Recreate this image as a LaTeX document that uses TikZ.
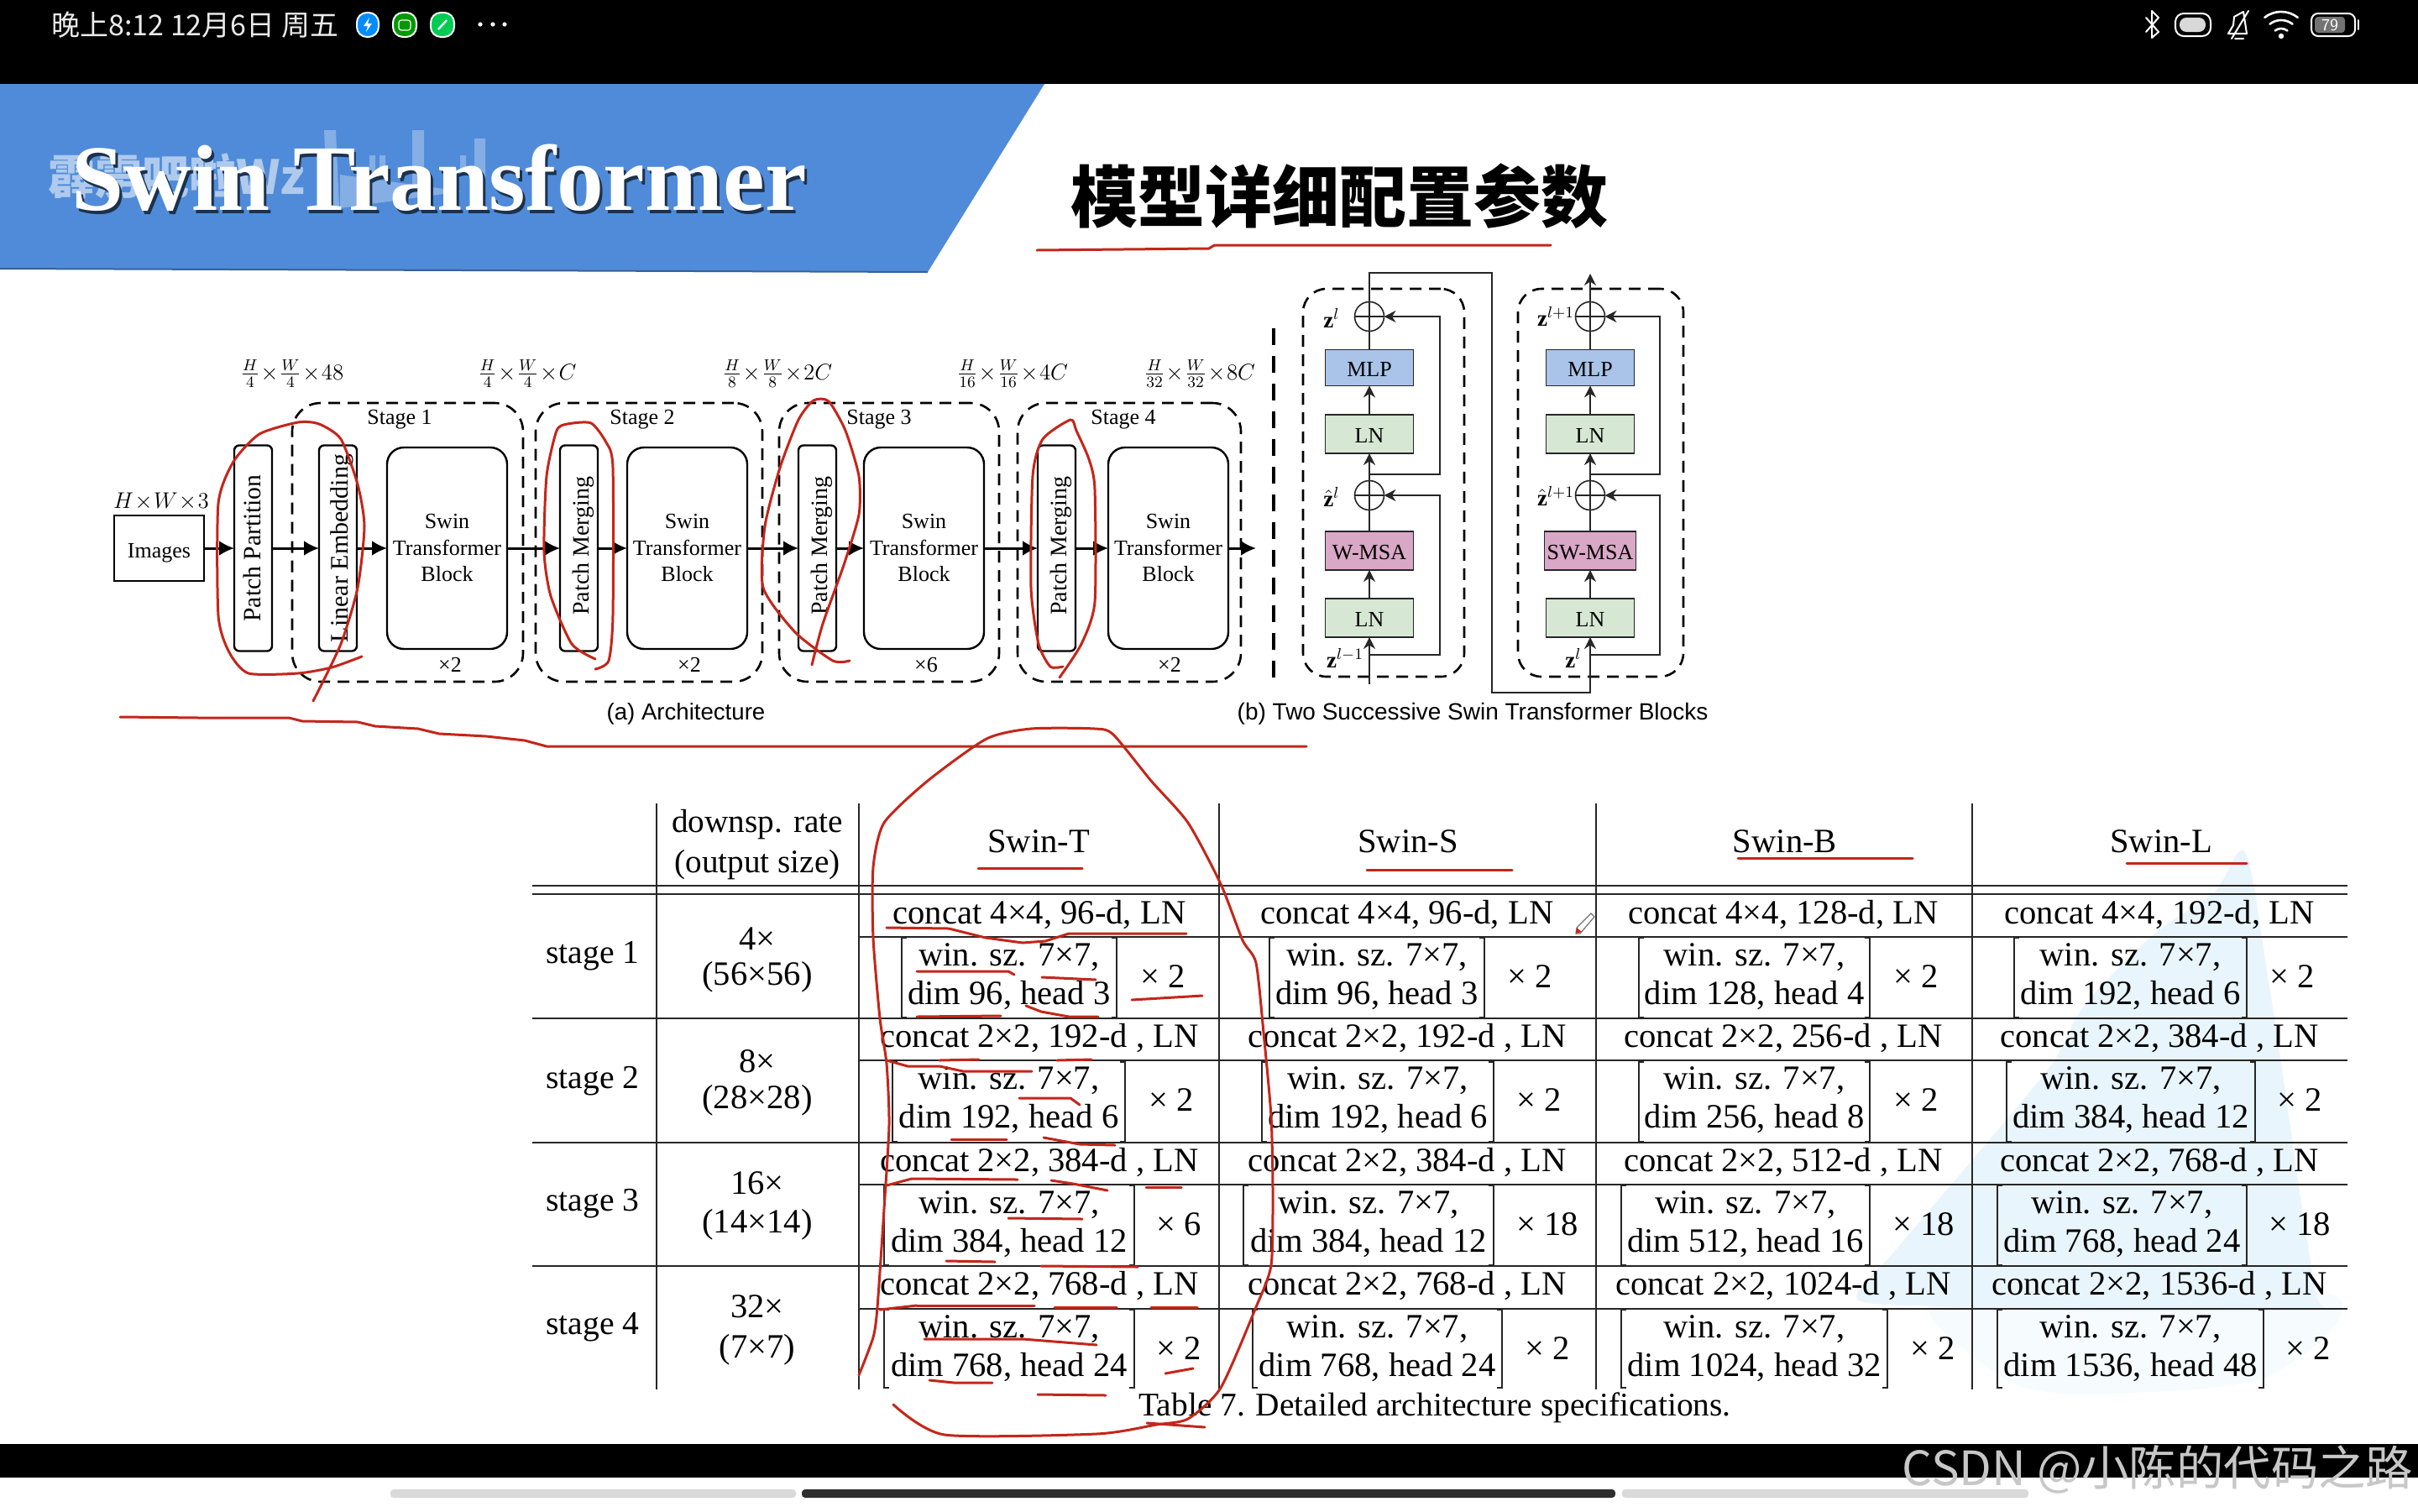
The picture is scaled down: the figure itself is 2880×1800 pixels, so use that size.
\documentclass[tikz,border=0pt]{standalone}
\usepackage{fix-cm}
\usepackage{fontspec}
\setmainfont{Liberation Serif}
\newfontfamily\cjk{Noto Sans CJK SC}
\newfontfamily\sanslbl{Liberation Sans}
\usepackage{xcolor}
\usepackage{tikz}
\usetikzlibrary{arrows.meta, positioning}
\definecolor{pita}{HTML}{4F8BD9}
\definecolor{tintamerah}{HTML}{C4261A}
\definecolor{mlpbiru}{HTML}{A9C4E8}
\definecolor{lnhijau}{HTML}{D6E8D4}
\definecolor{msaungu}{HTML}{D9A8C6}
\definecolor{garisgelap}{HTML}{262626}
\definecolor{awan}{HTML}{E9F5FC}
\definecolor{awanmuda}{HTML}{F6FBFE}
\tikzset{
  gambar/.style={rectangle, draw=black, line width=1.2pt, outer sep=0pt, inner sep=0pt,
    minimum width=53.5pt, minimum height=39pt, font=\fontsize{13}{15}\selectfont},
  irisan/.style={rectangle, rounded corners=3pt, draw=black, line width=1.2pt, outer sep=0pt, inner sep=0pt,
    minimum width=22.5pt, minimum height=122.5pt, font=\fontsize{14}{16}\selectfont},
  blok/.style={rectangle, rounded corners=10pt, draw=black, line width=1.2pt, outer sep=0pt, inner sep=0pt,
    minimum width=71.5pt, minimum height=120pt, font=\fontsize{13}{15.7}\selectfont},
  tahap/.style={rectangle, rounded corners=17pt, draw=black, line width=1.3pt, dash pattern=on 7pt off 4.5pt},
  tahapb/.style={rectangle, rounded corners=14pt, draw=black, line width=1.3pt, dash pattern=on 7pt off 4.5pt,
    minimum height=231pt, outer sep=0pt, inner sep=0pt},
  panah/.style={-{Latex[length=9pt, width=9pt]}, line width=1.5pt, shorten >=0pt},
  panahb/.style={-{Stealth[length=7pt, width=7pt]}, line width=.8pt, draw=garisgelap},
  garis/.style={line width=.8pt, draw=garisgelap},
  kotak/.style={rectangle, draw=garisgelap, line width=.8pt, outer sep=0pt, inner sep=0pt,
    minimum width=52.5pt, text height=10.5pt, font=\fontsize{13}{15}\selectfont},
  jumlah/.style={circle, draw=garisgelap, line width=.8pt, minimum size=17.5pt, inner sep=0pt, outer sep=0pt,
    path picture={\draw[garisgelap, line width=.8pt] (path picture bounding box.north) -- (path picture bounding box.south)
      (path picture bounding box.west) -- (path picture bounding box.east);}},
  label a/.style={font=\fontsize{13.5}{15}\selectfont, inner sep=0pt},
  sel/.style={font=\fontsize{20.3}{23}\selectfont, inner sep=0pt, align=center},
  tabel/.style={line width=1pt, draw=garisgelap},
  kurung/.style={line width=.9pt, draw=garisgelap},
  tinta/.style={draw=tintamerah, line width=1.5pt, line cap=round, line join=round},
  ikon/.style={draw=white, line width=1pt, line cap=round, line join=round}
}
\newcommand{\tegak}[1]{\rotatebox{90}{\raisebox{0pt}[12pt][0pt]{\hspace{3pt}#1}}}
\newcommand{\isiblok}{\raisebox{-4.2pt}[0pt][0pt]{\begin{tabular}{@{}c@{}}Swin\\Transformer\\Block\end{tabular}}}
\newcommand{\baris}[6]{
  \foreach \k/\cx/\teks/\kiri/\kanan/\isi/\mx/\ulang in {#6} {
    \node[sel] (c#1\k) at (\cx,#2) {\teks};
    \pgfmathsetmacro{\tengah}{(\kiri+\kanan)/2}
    \node[sel, font=\fontsize{20.3}{23.3}\selectfont] (w#1\k) at (\tengah,#3) {win. sz. 7×7,\\\isi};
    \node[sel] (u#1\k) at (\mx,#3) {× \ulang};
    \draw[kurung] ({\kiri+6},#4) -- (\kiri,#4) -- (\kiri,#5) -- ({\kiri+6},#5);
    \draw[kurung] ({\kanan-6},#4) -- (\kanan,#4) -- (\kanan,#5) -- ({\kanan-6},#5);
  }
}

\begin{document}
\begin{tikzpicture}[x=0.5pt, y=-0.5pt]
  \useasboundingbox (0,0) rectangle (2880,1800);
  \fill[white] (0,0) rectangle (2880,1800);
  \fill[black] (0,0) rectangle (2880,100);
  \fill[black] (0,1720) rectangle (2880,1760);
  \fill[pita] (0,100) -- (1244,100) -- (1105,324) -- (0,320) -- cycle;
  \draw[pita!70!black, line width=1pt] (0,320) -- (1105,324);
  \fill[white, opacity=.3] (386,155) -- (400,155) -- (404,247) -- (390,247) -- cycle
    (491,155) -- (505,155) -- (505,233) -- (491,233) -- cycle
    (565,165) -- (578,165) -- (578,233) -- (565,233) -- cycle
    (440,185) -- (447,185) -- (447,205) -- (440,205) -- cycle
    (452,185) -- (459,185) -- (459,205) -- (452,205) -- cycle
    (548,185) -- (555,185) -- (555,205) -- (548,205) -- cycle
    (405,208) -- (550,228) -- (405,248) -- cycle;
  \node[white, opacity=.55, font=\cjk\bfseries\fontsize{28}{30}\selectfont, inner sep=0pt, anchor=west] (cap) at (57,210) {霹雳吧啦Wz};
  \node[black!65!pita, font=\bfseries\fontsize{55.8}{60}\selectfont, inner sep=0pt, anchor=base west] (judulbayang) at (88,254) {Swin Transformer};
  \node[white, font=\bfseries\fontsize{55.8}{60}\selectfont, inner sep=0pt, anchor=base west] (judul) at (85,250) {Swin Transformer};
  \node[black, font=\cjk\bfseries\fontsize{40}{44}\selectfont, inner sep=0pt] (judulcn) at (1595,234) {模型详细配置参数};

  \node[text=white!92!black, font=\cjk\fontsize{17}{18}\selectfont, inner sep=0pt, anchor=west] (jam) at (61,30) {晚上8:12 12月6日 周五};
  \filldraw[draw=white, fill=blue!45!cyan, line width=1pt, rounded corners=6pt] (425,15) rectangle (451,44);
  \filldraw[draw=white, fill=green!60!black, line width=1pt, rounded corners=6pt] (468,15) rectangle (496,44);
  \filldraw[draw=white, fill=green!60!cyan!80!black, line width=1pt, rounded corners=6pt] (513,15) rectangle (541,44);
  \fill[white] (440,21) -- (433,31) -- (438,31) -- (436,38) -- (443,28) -- (438,28) -- cycle;
  \draw[white, line width=.6pt, rounded corners=1.5pt] (475,24) rectangle (489,36);
  \draw[white, line width=1.2pt] (522,35) -- (532,24);
  \foreach \x in {572,587,601} \fill[white] (\x,29) circle (1.3pt);
  \draw[ikon] (2556,21) -- (2571,38) -- (2563,45) -- (2563,13) -- (2571,21) -- (2556,38);
  \draw[ikon, rounded corners=5pt] (2591,16) rectangle (2633,43);
  \fill[white!85!black, rounded corners=4pt] (2596,21) rectangle (2627,38);
  \draw[ikon] (2654,40) -- (2660,30) -- (2661,20) -- (2672,14) -- (2676,40) -- cycle (2662,46) -- (2672,46) (2658,46) -- (2678,13);
  \foreach \r in {12,22,32} \draw[ikon, line width=1.3pt] (2717,46) ++(-128:\r) arc[start angle=-128, end angle=-52, radius=\r];
  \fill[white] (2717,43) circle (1.6pt);
  \draw[ikon, rounded corners=4pt] (2753,16) rectangle (2805,43);
  \fill[white!45!black, rounded corners=2pt] (2757,20) rectangle (2793,39);
  \draw[ikon] (2809,24) -- (2809,35);
  \node[white, font=\sffamily\fontsize{10}{11}\selectfont, inner sep=0pt] (baterai) at (2775,30) {79};

  \fill[awanmuda] plot[smooth cycle, tension=.5] coordinates {(2311,1540) (2384,1640) (2484,1660) (2700,1640) (2773,1540)};
  \fill[awan] plot[smooth cycle, tension=.5] coordinates {(2674,1015) (2637,1063) (2565,1113) (2483,1197) (2447,1263)
    (2393,1330) (2348,1383) (2257,1490) (2212,1547) (2311,1556) (2500,1562) (2773,1560) (2760,1547) (2737,1407) (2728,1343) (2701,1163)};

  \node[gambar] (img) at (189.5,653) {\raisebox{-5.5pt}[0pt][0pt]{Images}};
  \node[irisan, right=18pt of img, font=\fontsize{14.8}{16}\selectfont] (pp) {\rotatebox{90}{\raisebox{0pt}[9pt][0pt]{Patch Partition}}};
  \node[irisan, right=28pt of pp, font=\fontsize{15}{16}\selectfont] (le) {\rotatebox{90}{\raisebox{0pt}[12pt][0pt]{Linear Embedding}}};
  \node[blok, right=18pt of le] (blok1) {\isiblok};
  \node[irisan, right=31.5pt of blok1] (pm2) {\tegak{Patch Merging}};
  \node[blok, right=17.5pt of pm2] (blok2) {\isiblok};
  \node[irisan, right=30.5pt of blok2] (pm3) {\tegak{Patch Merging}};
  \node[blok, right=16.5pt of pm3] (blok3) {\isiblok};
  \node[irisan, right=32pt of blok3] (pm4) {\tegak{Patch Merging}};
  \node[blok, right=19.5pt of pm4] (blok4) {\isiblok};
  \coordinate (keluar) at (1496,653);
  \draw[panah] (img) -- (pp);
  \draw[panah] (pp) -- (le);
  \draw[panah] (le) -- (blok1);
  \draw[panah] (blok1) -- (pm2);
  \draw[panah] (pm2) -- (blok2);
  \draw[panah] (blok2) -- (pm3);
  \draw[panah] (pm3) -- (blok3);
  \draw[panah] (blok3) -- (pm4);
  \draw[panah] (pm4) -- (blok4);
  \draw[panah] (blok4) -- (keluar);
  \node[tahap, minimum width=137.5pt, minimum height=166pt] (tahap1) at (485.5,646) {};
  \node[tahap, minimum width=135pt, minimum height=166pt] (tahap2) at (773,646) {};
  \node[tahap, minimum width=131pt, minimum height=166pt] (tahap3) at (1059,646) {};
  \node[tahap, minimum width=133pt, minimum height=166pt] (tahap4) at (1345,646) {};
  \foreach \n/\x/\teks/\xk/\kali in {1/476/Stage 1/536/2, 2/765/Stage 2/821/2, 3/1047/Stage 3/1103/6, 4/1338/Stage 4/1393/2} {
    \node[label a, font=\fontsize{13}{15}\selectfont] (nama\n) at (\x,500) {\teks};
    \node[label a, font=\fontsize{13}{15}\selectfont] (kali\n) at (\xk,792) {×\kali};
  }
  \node[label a] (ukuran0) at (192,597) {$H\!\times\! W\!\times\! 3$};
  \node[label a] (ukuran1) at (348,445) {$\frac{H}{4}\!\times\!\frac{W}{4}\!\times\! 48$};
  \node[label a] (ukuran2) at (628,445) {$\frac{H}{4}\!\times\!\frac{W}{4}\!\times\! C$};
  \node[label a] (ukuran3) at (926,445) {$\frac{H}{8}\!\times\!\frac{W}{8}\!\times\! 2C$};
  \node[label a] (ukuran4) at (1206,445) {$\frac{H}{16}\!\times\!\frac{W}{16}\!\times\! 4C$};
  \node[label a] (ukuran5) at (1429,445) {$\frac{H}{32}\!\times\!\frac{W}{32}\!\times\! 8C$};
  \node[label a, font=\sanslbl\fontsize{13.8}{15}\selectfont] (capa) at (817,850) {(a) Architecture};
  \node[label a, font=\sanslbl\fontsize{14}{15}\selectfont] (capb) at (1754,850) {(b) Two Successive Swin Transformer Blocks};
  \draw[line width=2.2pt, dash pattern=on 10pt off 6.5pt] (1517,391) -- (1517,812);

  \node[tahapb, minimum width=96pt] (tahapA) at (1648,575) {};
  \node[tahapb, minimum width=98.5pt] (tahapB) at (1906.5,575) {};
  \node[kotak, fill=lnhijau, minimum height=23pt] (lnA1) at (1631,736) {LN};
  \node[kotak, fill=msaungu, minimum height=23pt] (msaA) at (1631,656) {W-MSA};
  \node[jumlah] (sumA1) at (1631,590) {};
  \node[kotak, fill=lnhijau, minimum height=23pt] (lnA2) at (1631,517) {LN};
  \node[kotak, fill=mlpbiru, minimum height=21.5pt] (mlpA) at (1631,438) {MLP};
  \node[jumlah] (sumA2) at (1631,377) {};
  \node[kotak, fill=lnhijau, minimum height=23pt] (lnB1) at (1894,736) {LN};
  \node[kotak, fill=msaungu, minimum height=23pt, minimum width=54.5pt] (msaB) at (1894,656) {SW-MSA};
  \node[jumlah] (sumB1) at (1894,590) {};
  \node[kotak, fill=lnhijau, minimum height=23pt] (lnB2) at (1894,517) {LN};
  \node[kotak, fill=mlpbiru, minimum height=21.5pt] (mlpB) at (1894,438) {MLP};
  \node[jumlah] (sumB2) at (1894,377) {};
  \coordinate (masukA) at (1631,815);
  \coordinate (cabA1) at (1631,780);
  \coordinate (cabA2) at (1631,565);
  \coordinate (cabB1) at (1894,780);
  \coordinate (cabB2) at (1894,565);
  \coordinate (atas1) at (1631,325);
  \coordinate (atas2) at (1777,325);
  \coordinate (bawah1) at (1777,825);
  \coordinate (bawah2) at (1894,825);
  \coordinate (keluarB) at (1894,326);
  \draw[panahb] (masukA) -- (lnA1);
  \draw[panahb] (lnA1) -- (msaA);
  \draw[garis] (msaA) -- (sumA1);
  \draw[panahb] (sumA1) -- (lnA2);
  \draw[panahb] (lnA2) -- (mlpA);
  \draw[garis] (mlpA) -- (sumA2);
  \draw[panahb] (cabA1) -- ++(84,0) |- (sumA1);
  \draw[panahb] (cabA2) -- ++(84,0) |- (sumA2);
  \draw[panahb] (sumA2) -- (atas1) -- (atas2) -- (bawah1) -- (bawah2) -- (lnB1);
  \draw[panahb] (lnB1) -- (msaB);
  \draw[garis] (msaB) -- (sumB1);
  \draw[panahb] (sumB1) -- (lnB2);
  \draw[panahb] (lnB2) -- (mlpB);
  \draw[garis] (mlpB) -- (sumB2);
  \draw[panahb] (cabB1) -- ++(83,0) |- (sumB1);
  \draw[panahb] (cabB2) -- ++(83,0) |- (sumB2);
  \draw[panahb] (sumB2) -- (keluarB);
  \node[label a] (zA2) at (1586,379) {$\mathbf{z}^{l}$};
  \node[label a] (zA1) at (1586,592) {$\hat{\mathbf{z}}^{l}$};
  \node[label a] (zA0) at (1602,784) {$\mathbf{z}^{l-1}$};
  \node[label a] (zB2) at (1853,377) {$\mathbf{z}^{l+1}$};
  \node[label a] (zB1) at (1853,591) {$\hat{\mathbf{z}}^{l+1}$};
  \node[label a] (zB0) at (1874,784) {$\mathbf{z}^{l}$};

  \foreach \x in {782,1023,1452,1901,2349} \draw[tabel] (\x,957) -- (\x,1655);
  \foreach \y in {1055,1065,1213,1361,1508} \draw[tabel] (634,\y) -- (2796,\y);
  \foreach \y in {1116,1263,1411,1559} \draw[tabel] (1023,\y) -- (2796,\y);
  \node[sel, font=\fontsize{19.6}{24}\selectfont] (kepala) at (902,1006) {downsp. rate\\(output size)};
  \node[sel] (namaT) at (1237,1002) {Swin-T};
  \node[sel] (namaS) at (1677,1002) {Swin-S};
  \node[sel] (namaB) at (2126,1002) {Swin-B};
  \node[sel] (namaL) at (2574,1002) {Swin-L};
  \foreach \n/\y/\a/\ya/\b/\yb in {1/1139/4×/1118/(56×56)/1164, 2/1288/8×/1264/(28×28)/1311, 3/1434/16×/1409/(14×14)/1459, 4/1581/32×/1556/(7×7)/1608} {
    \node[sel, font=\fontsize{19.8}{23}\selectfont] (stage\n) at (706,\y) {stage \n};
    \node[sel] (rate\n) at (902,\ya) {\a};
    \node[sel] (out\n) at (902,\yb) {\b};
  }
  \baris{1}{1090}{1163}{1117}{1212}{
    T/1238/{concat 4×4, 96-d, LN}/1074/1330/{dim 96, head 3}/1385/2,
    S/1676/{concat 4×4, 96-d, LN}/1512/1768/{dim 96, head 3}/1822/2,
    B/2124/{concat 4×4, 128-d, LN}/1952/2227/{dim 128, head 4}/2282/2,
    L/2572/{concat 4×4, 192-d, LN}/2399/2676/{dim 192, head 6}/2730/2}
  \baris{2}{1237}{1310}{1265}{1360}{
    T/1238/{concat 2×2, 192-d , LN}/1063/1340/{dim 192, head 6}/1395/2,
    S/1676/{concat 2×2, 192-d , LN}/1503/1779/{dim 192, head 6}/1833/2,
    B/2124/{concat 2×2, 256-d , LN}/1952/2227/{dim 256, head 8}/2282/2,
    L/2572/{concat 2×2, 384-d , LN}/2390/2686/{dim 384, head 12}/2739/2}
  \baris{3}{1385}{1458}{1412}{1507}{
    T/1238/{concat 2×2, 384-d , LN}/1053/1351/{dim 384, head 12}/1404/6,
    S/1676/{concat 2×2, 384-d , LN}/1481/1779/{dim 384, head 12}/1843/18,
    B/2124/{concat 2×2, 512-d , LN}/1931/2227/{dim 512, head 16}/2291/18,
    L/2572/{concat 2×2, 768-d , LN}/2379/2676/{dim 768, head 24}/2739/18}
  \baris{4}{1532}{1606}{1560}{1653}{
    T/1238/{concat 2×2, 768-d , LN}/1053/1351/{dim 768, head 24}/1404/2,
    S/1676/{concat 2×2, 768-d , LN}/1492/1789/{dim 768, head 24}/1843/2,
    B/2124/{concat 2×2, 1024-d , LN}/1931/2248/{dim 1024, head 32}/2302/2,
    L/2572/{concat 2×2, 1536-d , LN}/2379/2696/{dim 1536, head 48}/2749/2}
  \node[sel, font=\fontsize{19.7}{23}\selectfont] (tabel7) at (1709,1677) {Table 7. Detailed architecture specifications.};

  \filldraw[draw=black!55, fill=white, line width=.6pt] (1895,1088) -- (1899,1092) -- (1882,1112) -- (1877,1112) -- (1878,1105) -- cycle;
  \fill[tintamerah] (1877,1112) -- (1878,1105) -- (1884,1110) -- cycle;

  \draw[tinta] plot[smooth, tension=.4] coordinates {(431,782) (395,795) (355,802) (296,802) (273,777) (260,733) (260,600) (278,550) (309,517) (355,503) (380,505) (406,523) (426,577) (434,627) (426,700) (406,767) (373,835)};
  \draw[tinta] plot[smooth, tension=.4] coordinates {(709,785) (681,767) (656,710) (648,657) (651,567) (663,513) (676,505) (704,504) (722,527) (730,557) (730,733) (725,787) (709,797)};
  \draw[tinta] plot[smooth, tension=.4] coordinates {(1012,787) (992,787) (947,753) (909,700) (911,627) (929,557) (951,500) (969,477) (987,478) (1007,513) (1023,567) (1023,613) (1005,673) (980,743) (967,792)};
  \draw[tinta] plot[smooth, tension=.4] coordinates {(1266,794) (1251,794) (1237,767) (1228,700) (1230,567) (1242,523) (1275,500) (1282,513) (1297,547) (1304,583) (1304,717) (1288,767) (1262,807)};
  \draw[tinta] (143,854) -- (237,855) -- (344,855) -- (360,859) -- (426,860) -- (447,865) -- (498,868) -- (523,874) -- (579,877) -- (625,882) -- (651,889) -- (1556,889);
  \draw[tinta] (1235,298) -- (1440,296) to[out=10,in=180] (1447,292) -- (1847,292);
  \draw[tinta] plot[smooth, tension=.4] coordinates {(1023,1638) (1040,1593) (1045,1557) (1053,1440) (1059,1340) (1056,1267) (1048,1213) (1040,1117) (1040,1033) (1053,980) (1105,930) (1175,880) (1228,868) (1304,868) (1326,875) (1371,930) (1415,980) (1454,1053) (1480,1120) (1496,1147) (1505,1230) (1514,1330) (1516,1420) (1514,1507) (1496,1557) (1454,1653) (1415,1690) (1377,1697) (1306,1708) (1125,1709) (1064,1673)};
  \draw[tinta] (1366,1695) -- (1435,1700);
  \foreach \xa/\ya/\xb/\yb in {1165/1034/1289/1034, 1628/1036/1801/1036, 2070/1022/2278/1022, 2533/1028/2676/1028,
    1241/1164/1305/1167, 1092/1211/1192/1210, 1119/1263/1166/1262, 1259/1263/1300/1262, 1133/1357/1199/1357,
    1365/1414/1407/1414, 1201/1451/1289/1452, 1127/1502/1185/1503, 1240/1508/1355/1509, 1092/1555/1232/1555,
    1256/1557/1330/1557, 1371/1557/1426/1557, 1236/1661/1317/1662, 1388/1636/1421/1630, 1348/1191/1432/1186}
    \draw[tinta] (\xa,\ya) -- (\xb,\yb);
  \draw[tinta] (1056,1105) -- (1130,1106) -- (1174,1117) -- (1218,1123) -- (1245,1121) -- (1273,1112) -- (1413,1112);
  \draw[tinta] (1092,1157) -- (1201,1157) -- (1208,1161);
  \draw[tinta] (1222,1198) -- (1240,1205) -- (1273,1211) -- (1308,1211);
  \draw[tinta] (1056,1263) -- (1081,1270) -- (1119,1270) -- (1147,1276) -- (1229,1276);
  \draw[tinta] (1214,1308) -- (1275,1308) -- (1286,1316);
  \draw[tinta] (1243,1355) -- (1286,1363) -- (1328,1364);
  \draw[tinta] (1056,1412) -- (1086,1404) -- (1212,1405);
  \draw[tinta] (1252,1406) -- (1278,1410) -- (1319,1418);
  \draw[tinta] (1048,1560) -- (1092,1555);
  \draw[tinta] (1101,1595) -- (1218,1595) -- (1306,1602);
  \draw[tinta] (1107,1644) -- (1136,1647) -- (1182,1647);

  \fill[black!82, rounded corners=2pt] (955,1774) rectangle (1924,1784);
  \fill[black!15, rounded corners=2pt] (465,1774) rectangle (948,1784);
  \fill[black!15, rounded corners=2pt] (1932,1774) rectangle (2416,1784);
  \node[black!22, font=\cjk\fontsize{28.2}{31}\selectfont, inner sep=0pt] (csdn) at (2570,1750) {CSDN @小陈的代码之路};
\end{tikzpicture}
\end{document}
